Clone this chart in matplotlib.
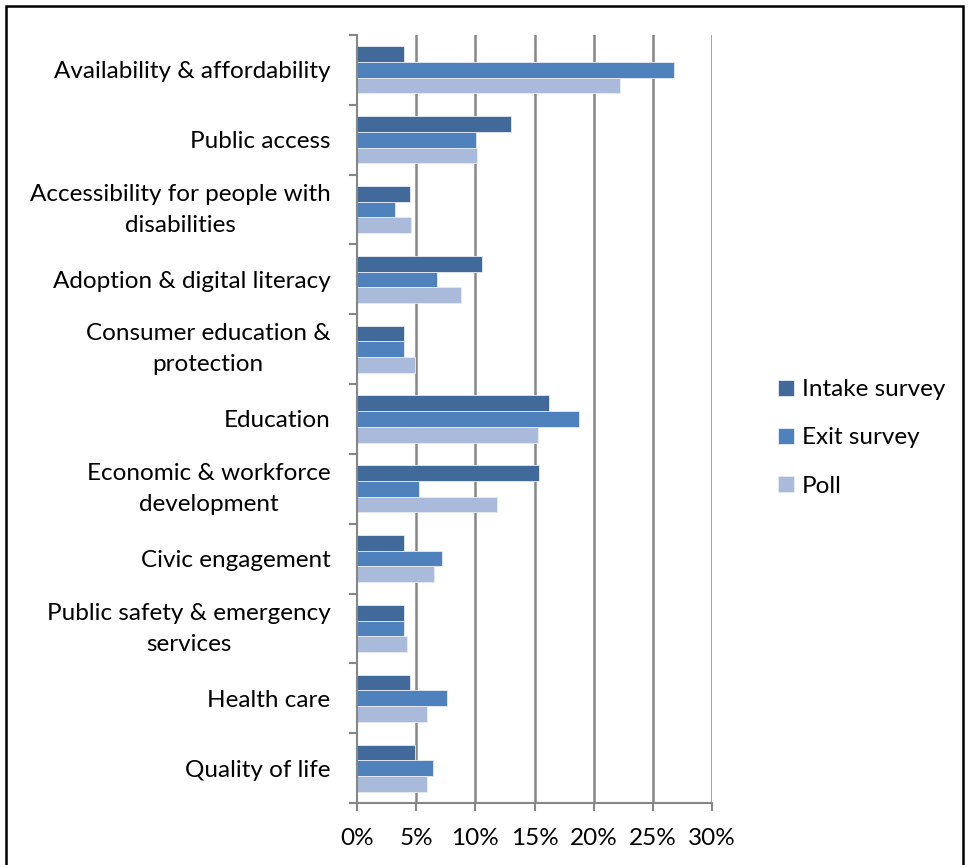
import matplotlib
matplotlib.use("Agg")
import matplotlib.pyplot as plt
import matplotlib.transforms as mtransforms
import numpy as np
from matplotlib.patches import Rectangle

categories = [
    "Availability & affordability",
    "Public access",
    "Accessibility for people with\ndisabilities",
    "Adoption & digital literacy",
    "Consumer education &\nprotection",
    "Education",
    "Economic & workforce\ndevelopment",
    "Civic engagement",
    "Public safety & emergency\nservices",
    "Health care",
    "Quality of life",
]
intake = [4.0, 13.0, 4.45, 10.6, 4.0, 16.2, 15.4, 4.0, 4.0, 4.45, 4.9]
exit_s = [26.8, 10.05, 3.2, 6.8, 4.0, 18.8, 5.2, 7.2, 4.0, 7.6, 6.4]
poll = [22.2, 10.1, 4.55, 8.8, 4.9, 15.3, 11.8, 6.5, 4.2, 5.9, 5.9]
series_names = ["Intake survey", "Exit survey", "Poll"]
colors = ["#416A9B", "#4F81BD", "#AABADA"]
xticks = [0, 5, 10, 15, 20, 25, 30]

plt.rcParams['font.family'] = ['Lato', 'DejaVu Sans']
FS = 17.5

fig = plt.figure(figsize=(9.73, 8.65), dpi=100)
ax = fig.add_axes([357/973, 1-803/865, (712-357)/973, (803-35)/865])

n = len(categories)
y = np.arange(n)
h = 0.225
for i, (vals, name, c) in enumerate(zip([intake, exit_s, poll], series_names, colors)):
    ax.barh(y + (i-1)*h, vals, height=h, color=c, label=name,
            edgecolor="#E6ECF5", linewidth=0.6, zorder=3)

ax.set_ylim(n-0.5, -0.5)
ax.set_xlim(0, 30)
ax.set_xticks(xticks)
ax.set_xticklabels([f"{t}%" for t in xticks], fontsize=FS)
ax.set_yticks(y)
ax.set_yticklabels(categories, fontsize=FS, multialignment="center", linespacing=1.6)
ax.tick_params(axis='y', length=0, pad=19)
ax.set_yticks(np.arange(n+1)-0.5, minor=True)
ax.tick_params(axis='y', which='minor', length=6, width=1.5, color="#868686", left=True)
ax.tick_params(axis='x', length=6, width=1.5, color="#868686", pad=12)

shift = mtransforms.ScaledTranslation(0, 5/72, fig.dpi_scale_trans)
for lbl in ax.get_yticklabels():
    if "\n" in lbl.get_text():
        lbl.set_transform(lbl.get_transform() + shift)

for t in xticks[1:]:
    ax.axvline(t, color="#868686", linewidth=1.8, zorder=1)

for s in ['top', 'right']:
    ax.spines[s].set_visible(False)
for s in ['left', 'bottom']:
    ax.spines[s].set_color("#868686")
    ax.spines[s].set_linewidth(1.5)
    ax.spines[s].set_zorder(4)

leg = fig.legend(loc="center left", bbox_to_anchor=(756/973, 1-438/865),
                 frameon=False, fontsize=FS, handlelength=0.65, handleheight=0.65,
                 handletextpad=0.35, labelspacing=1.12)

fig.patches.append(Rectangle((6/973, -0.05), (963-6)/973, 1.05-6/865,
                             transform=fig.transFigure, fill=False,
                             edgecolor="black", linewidth=1.8, clip_on=False))

fig.savefig("out.png", dpi=100)
